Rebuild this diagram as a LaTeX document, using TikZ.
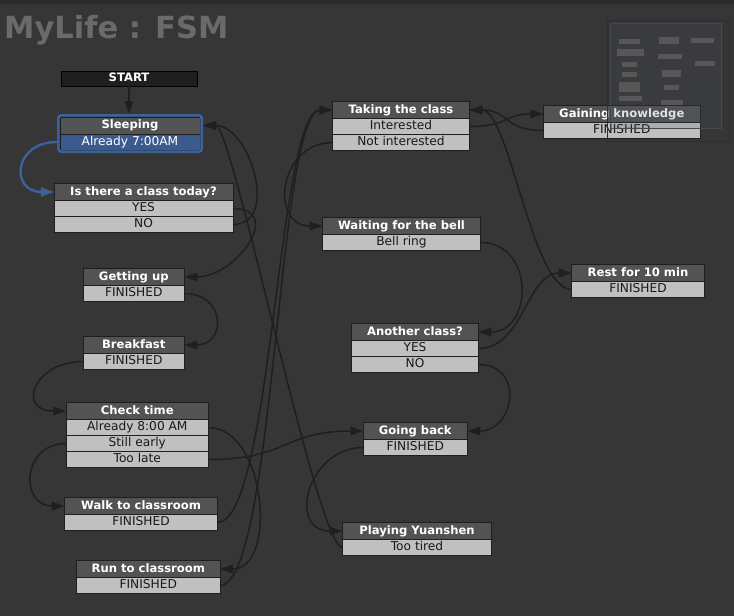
\documentclass[tikz,border=0pt]{standalone}
\usepackage{fontspec}
\setmainfont{DejaVu Sans}
\usepackage{tikz}
\usetikzlibrary{positioning,fit,arrows.meta}
\definecolor{bgc}{HTML}{363636}
\definecolor{barc}{HTML}{2B2B2B}
\definecolor{headc}{HTML}{535353}
\definecolor{rowc}{HTML}{C0C0C0}
\definecolor{edgec}{HTML}{1F1F1F}
\definecolor{selc}{HTML}{3C629A}
\definecolor{selrow}{HTML}{3B5B8E}
\definecolor{titlec}{HTML}{6A6A6A}
\definecolor{mapc}{HTML}{4A5566}
\definecolor{mapline}{HTML}{454A51}
\definecolor{blockc}{HTML}{575757}
\tikzstyle{head}=[draw=edgec, line width=0.9pt, fill=headc, text=white, font=\bfseries\fontsize{11.6}{13}\selectfont, minimum height=17pt, inner sep=0pt, outer sep=0pt, text height=8.5pt, text depth=2.2pt]
\tikzstyle{row}=[draw=edgec, line width=0.9pt, fill=rowc, text=black!90, font=\fontsize{12.2}{14}\selectfont, minimum height=16pt, inner sep=0pt, outer sep=0pt, text height=8.8pt, text depth=2.5pt]
\tikzstyle{starthead}=[head, fill=black!88, draw=black, minimum height=15pt]
\tikzstyle{selframe}=[draw=selc, line width=2.6pt, rounded corners=3pt, inner sep=1.7pt]
\tikzstyle{link}=[draw=edgec, line width=1.5pt, -{Triangle[length=13pt,width=8.5pt]}]
\newcommand{\fsmhead}[5]{
  \node[head, minimum width=#4pt] (#1) at (#2,#3) {#5};
}
\newcommand{\fsmrow}[4]{
  \node[row, minimum width=#3pt, below=0pt of #2] (#1) {#4};
}

\begin{document}
\begin{tikzpicture}[x=1pt,y=-1pt]
\useasboundingbox (0,0) rectangle (734,616);
\fill[bgc] (0,0) rectangle (734,616);
\fill[barc] (0,0) rectangle (734,4);
\draw[black!80, line width=1.2pt] (0,4.5) -- (734,4.5);

\node[anchor=base west, text=titlec, font=\bfseries\fontsize{30.5}{34}\selectfont, inner sep=0pt] (title) at (4,38) {MyLife : FSM};

% states
\node[starthead, minimum width=136pt] (start) at (129,78.5) {START};

\fsmhead{sleep}{130}{125.5}{140}{Sleeping}
\node[row, fill=selrow, text=white, minimum width=140pt, below=0pt of sleep] (sleep-row) {Already 7:00AM};
\node[selframe, fit=(sleep)(sleep-row)] (sleepsel) {};

\fsmhead{today}{143.5}{192}{179}{Is there a class today?}
\fsmrow{today-yes}{today}{179}{YES}
\fsmrow{today-no}{today-yes}{179}{NO}

\fsmhead{getup}{133.8}{277}{101}{Getting up}
\fsmrow{getup-row}{getup}{101}{FINISHED}

\fsmhead{bfast}{133.8}{345}{101}{Breakfast}
\fsmrow{bfast-row}{bfast}{101}{FINISHED}

\fsmhead{check}{137.3}{411}{142}{Check time}
\fsmrow{check-8am}{check}{142}{Already 8:00 AM}
\fsmrow{check-early}{check-8am}{142}{Still early}
\fsmrow{check-late}{check-early}{142}{Too late}

\fsmhead{walk}{141}{506}{152.6}{Walk to classroom}
\fsmrow{walk-row}{walk}{152.6}{FINISHED}

\fsmhead{run}{148.3}{569}{143.3}{Run to classroom}
\fsmrow{run-row}{run}{143.3}{FINISHED}

\fsmhead{take}{401}{110}{136.6}{Taking the class}
\fsmrow{take-int}{take}{136.6}{Interested}
\fsmrow{take-not}{take-int}{136.6}{Not interested}

\fsmhead{wait}{401.5}{226}{157.6}{Waiting for the bell}
\fsmrow{wait-row}{wait}{157.6}{Bell ring}

\fsmhead{gain}{621.8}{114}{157}{Gaining knowledge}
\fsmrow{gain-row}{gain}{157}{FINISHED}

\fsmhead{rest}{638}{273}{132.6}{Rest for 10 min}
\fsmrow{rest-row}{rest}{132.6}{FINISHED}

\fsmhead{another}{415}{332}{126.6}{Another class?}
\fsmrow{another-yes}{another}{126.6}{YES}
\fsmrow{another-no}{another-yes}{126.6}{NO}

\fsmhead{goback}{415.3}{431}{104}{Going back}
\fsmrow{goback-row}{goback}{104}{FINISHED}

\fsmhead{play}{417}{531}{148.6}{Playing Yuanshen}
\fsmrow{play-row}{play}{148.6}{Too tired}

% transitions
\draw[link] (start.south) -- (start.south |- sleepsel.north);
\draw[link, draw=selc, line width=2.4pt] (sleepsel.west |- sleep-row) .. controls +(-44,0) and +(-44,0) .. (today.west);
\draw[link] (today-yes.east) .. controls +(52,0) and +(52,0) .. (getup.east);
\draw[link] (today-no.east) .. controls +(47,0) and +(47,0) .. (sleepsel.east |- sleep.east);
\draw[link] (play-row.west) .. controls +(-26,0) and +(30,0) .. (sleepsel.east |- sleep.east);
\draw[link] (getup-row.east) .. controls +(42,0) and +(42,0) .. (bfast.east);
\draw[link] (bfast-row.west) .. controls +(-50,0) and +(-50,0) .. (check.west);
\draw[link] (check-early.west) .. controls +(-45,0) and +(-45,0) .. (walk.west);
\draw[link] (check-8am.east) .. controls +(58,0) and +(58,0) .. (run.east);
\draw[link] (check-late.east) .. controls +(80,0) and +(-80,0) .. (goback.west);
\draw[link] (walk-row.east) .. controls +(55,0) and +(-55,0) .. (take.west);
\draw[link] (run-row.east) .. controls +(55,0) and +(-55,0) .. (take.west);
\draw[link] (take-not.west) .. controls +(-54,0) and +(-54,0) .. (wait.west);
\draw[link] (take-int.east) .. controls +(40,0) and +(-40,0) .. (gain.west);
\draw[link] (gain-row.west) .. controls +(-40,0) and +(40,0) .. (take.east);
\draw[link] (wait-row.east) .. controls +(55,0) and +(55,0) .. (another.east);
\draw[link] (another-yes.east) .. controls +(45,0) and +(-45,0) .. (rest.west);
\draw[link] (rest-row.west) .. controls +(-40,0) and +(40,0) .. (take.east);
\draw[link] (another-no.east) .. controls +(47,0) and +(47,0) .. (goback.east);
\draw[link] (goback-row.west) .. controls +(-56,0) and +(-56,0) .. (play.west);

% minimap
\fill[mapc, fill opacity=0.18] (610,23) rectangle (721,128);
\draw[mapline, line width=0.7pt] (610,23) rectangle (721,128);
\draw[black!15!bgc, line width=0.7pt] (607,20) rectangle (729,141);
\foreach \xa/\ya/\xb/\yb in {619/39/640/44, 659/37/679/44, 691/38/714/43, 617/49/644/56,
    658/54/682/59, 622/62/637/67, 695/61/715/66, 622/72/637/77, 662/70/681/77,
    619/82/640/92, 664/85/679/90, 619/96/642/101, 661/100/683/105}
  \fill[blockc] (\xa,\ya) rectangle (\xb,\yb);
\end{tikzpicture}
\end{document}
